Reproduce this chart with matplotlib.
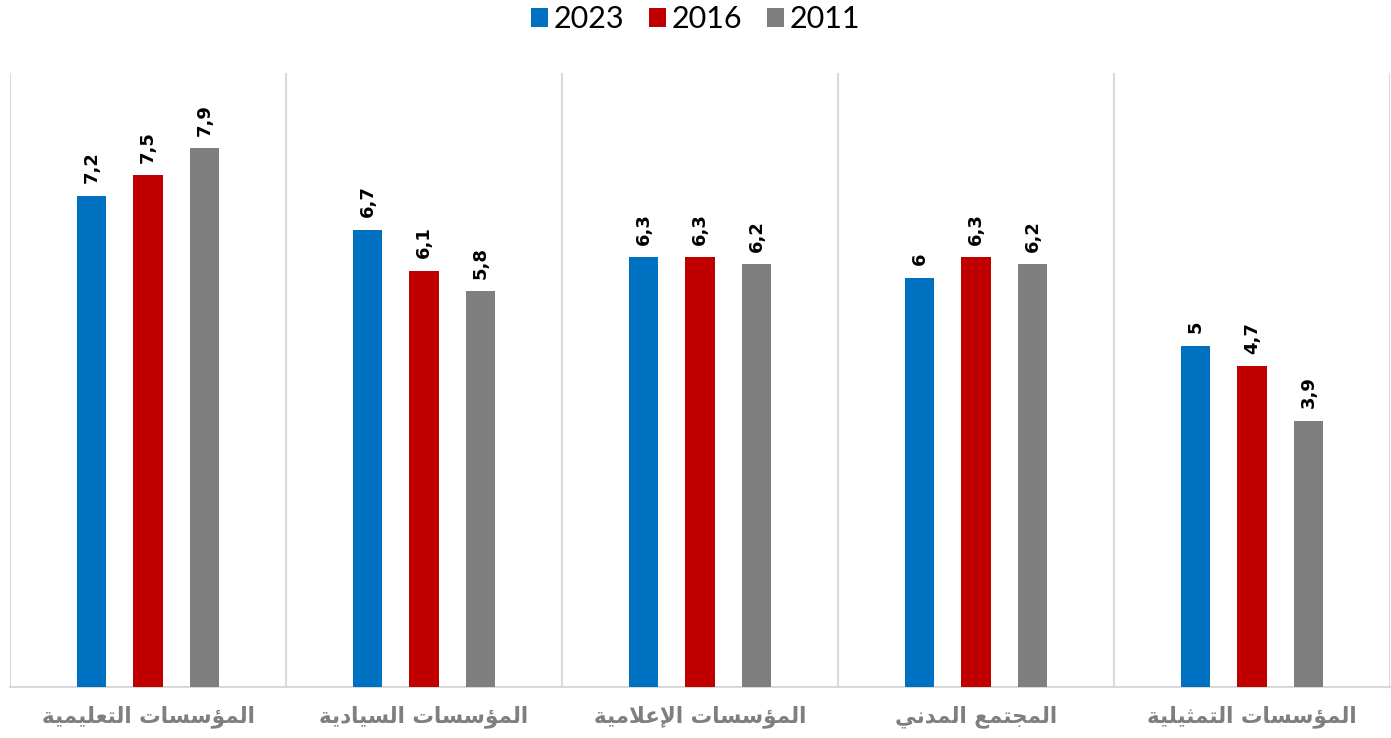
import numpy as np
import matplotlib.pyplot as plt

categories = ['المؤسسات التعليمية', 'المؤسسات السيادية', 'المؤسسات الإعلامية',
              'المجتمع المدني', 'المؤسسات التمثيلية']
years = ['2023', '2016', '2011']
v2023 = [7.2, 6.7, 6.3, 6.0, 5.0]
v2016 = [7.5, 6.1, 6.3, 6.3, 4.7]
v2011 = [7.9, 5.8, 6.2, 6.2, 3.9]
colors = ['#0070C0', '#C00000', '#7F7F7F']

# minimal arabic shaping (matplotlib has no shaping engine)
# letter: (isolated, final, initial, medial) ; None = right-joining only
FORMS = {
    'ا': (0xFE8D, 0xFE8E, None, None),
    'إ': (0xFE87, 0xFE88, None, None),
    'أ': (0xFE83, 0xFE84, None, None),
    'ؤ': (0xFE85, 0xFE86, None, None),
    'ة': (0xFE93, 0xFE94, None, None),
    'د': (0xFEA9, 0xFEAA, None, None),
    'ت': (0xFE95, 0xFE96, 0xFE97, 0xFE98),
    'ث': (0xFE99, 0xFE9A, 0xFE9B, 0xFE9C),
    'ج': (0xFE9D, 0xFE9E, 0xFE9F, 0xFEA0),
    'س': (0xFEB1, 0xFEB2, 0xFEB3, 0xFEB4),
    'ع': (0xFEC9, 0xFECA, 0xFECB, 0xFECC),
    'ل': (0xFEDD, 0xFEDE, 0xFEDF, 0xFEE0),
    'م': (0xFEE1, 0xFEE2, 0xFEE3, 0xFEE4),
    'ن': (0xFEE5, 0xFEE6, 0xFEE7, 0xFEE8),
    'ي': (0xFEF1, 0xFEF2, 0xFEF3, 0xFEF4),
}
LAMALEF = {'ا': (0xFEFB, 0xFEFC), 'إ': (0xFEF9, 0xFEFA), 'أ': (0xFEF7, 0xFEF8)}


def dual(c):
    return c in FORMS and FORMS[c][2] is not None


def shape(txt):
    out = []
    i = 0
    while i < len(txt):
        c = txt[i]
        prev = txt[i - 1] if i > 0 else ''
        nxt = txt[i + 1] if i + 1 < len(txt) else ''
        if c not in FORMS:
            out.append(c)
            i += 1
            continue
        pj = dual(prev)
        if c == 'ل' and nxt in LAMALEF:
            out.append(chr(LAMALEF[nxt][1 if pj else 0]))
            i += 2
            continue
        nj = dual(c) and nxt in FORMS
        f = FORMS[c]
        if pj and nj:
            code = f[3]
        elif pj:
            code = f[1]
        elif nj:
            code = f[2]
        else:
            code = f[0]
        out.append(chr(code))
        i += 1
    return ''.join(out)[::-1]


fig = plt.figure(figsize=(13.91, 7.38), dpi=100)
ax = fig.add_axes([10 / 1391, 51 / 738, 1380 / 1391, 614 / 738])

x = np.arange(len(categories))
w = 0.108
step = 0.205
series = [v2023, v2016, v2011]
for k, vals in enumerate(series):
    pos = x + (k - 1) * step
    ax.bar(pos, vals, width=w, color=colors[k], label=years[k], zorder=3)
    for p, v in zip(pos, vals):
        lab = ('%g' % v).replace('.', ',')
        ax.annotate(lab, (p, v), xytext=(0, 9), textcoords='offset points',
                    rotation=90, ha='center', va='bottom', fontsize=13,
                    fontweight='bold', color='black')

ax.set_xlim(-0.5, len(categories) - 0.5)
ax.set_ylim(0, 9)
for b in np.arange(-0.5, len(categories), 1.0):
    ax.axvline(b, color='#D9D9D9', lw=1.5, zorder=1)
ax.set_yticks([])
ax.set_xticks(x)
ax.set_xticklabels([shape(c) for c in categories], fontsize=15.5,
                   fontweight='bold', color='#7F7F7F', family='DejaVu Sans')
ax.tick_params(axis='x', length=0, pad=13)
for s in ['top', 'left', 'right']:
    ax.spines[s].set_visible(False)
ax.spines['bottom'].set_color('#D9D9D9')
ax.spines['bottom'].set_linewidth(1.5)

fig.legend(loc='upper center', bbox_to_anchor=(0.5, 1.03), ncol=3, frameon=False,
           prop={'family': 'Lato', 'size': 22}, handlelength=0.55, handleheight=0.55,
           handletextpad=0.2, columnspacing=0.8)

fig.savefig('out.png', dpi=100)
